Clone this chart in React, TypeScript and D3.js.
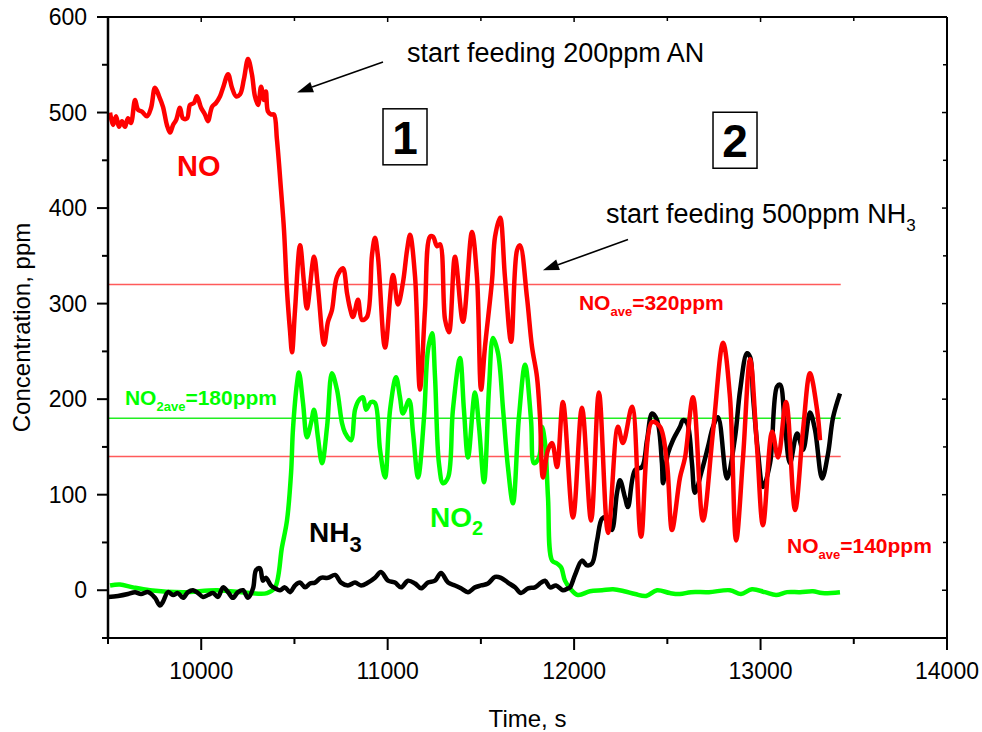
import React from "react";
import * as d3 from "d3";

// ---- Data (time in s, concentration in ppm) ----
const noSeries: [number, number][] = [
  [9511,500],[9527,487],[9543,496],[9559,485],[9575,491],[9591,485],[9607,494],[9623,489],[9645,513],[9661,503],
  [9682,501],[9709,496],[9731,505],[9752,526],[9774,517],[9795,506],[9816,487],[9833,479],[9849,487],[9865,492],
  [9886,505],[9902,494],[9924,494],[9940,508],[9961,510],[9977,517],[9999,505],[10020,498],[10036,491],[10058,506],
  [10079,510],[10101,517],[10117,526],[10144,540],[10165,526],[10187,517],[10208,519],[10229,535],[10251,556],[10272,540],
  [10288,517],[10305,508],[10321,527],[10337,513],[10347,522],[10358,501],[10374,498],[10390,498],[10406,472],[10428,419],
  [10444,377],[10460,314],[10476,272],[10487,249],[10503,293],[10530,361],[10551,322],[10567,295],[10605,349],[10626,317],
  [10659,257],[10680,281],[10701,293],[10728,328],[10760,337],[10782,311],[10798,295],[10814,286],[10841,304],[10862,283],
  [10889,286],[10916,351],[10932,369],[10948,349],[10986,254],[11029,330],[11055,299],[11082,322],[11104,356],[11120,372],
  [11147,328],[11173,210],[11200,293],[11227,370],[11243,370],[11265,360],[11281,362],[11308,283],[11329,270],[11361,349],
  [11404,281],[11452,375],[11479,328],[11501,210],[11522,255],[11560,325],[11576,370],[11603,390],[11629,328],[11662,260],
  [11694,356],[11710,361],[11747,307],[11774,255],[11801,223],[11817,181],[11833,118],[11860,147],[11882,154],[11908,129],
  [11940,197],[11994,76],[12042,191],[12091,73],[12133,207],[12182,60],[12235,171],[12262,154],[12311,192],[12359,56],
  [12418,176],[12461,171],[12498,133],[12525,63],[12568,118],[12595,139],[12638,202],[12691,73],[12745,166],[12799,259],
  [12836,202],[12869,52],[12906,139],[12944,242],[12981,150],[13013,68],[13062,166],[13094,139],[13137,197],[13185,84],
  [13228,168],[13265,227],[13303,189],[13319,157]
];

const no2Series: [number, number][] = [
  [9511,5],[9564,6],[9634,3],[9725,0],[9902,-2],[10085,0],[10262,-3],[10353,-3],[10396,3],[10433,45],
  [10460,73],[10482,123],[10492,168],[10514,217],[10524,228],[10546,196],[10567,160],[10589,175],[10605,189],[10626,160],
  [10648,133],[10675,171],[10701,227],[10728,210],[10755,175],[10771,165],[10803,157],[10825,189],[10846,199],[10868,202],
  [10884,189],[10911,197],[10932,196],[10959,147],[10986,118],[11013,189],[11045,223],[11066,202],[11082,185],[11115,199],
  [11136,165],[11163,118],[11195,181],[11216,251],[11238,269],[11254,223],[11275,133],[11297,112],[11324,118],[11350,189],
  [11388,243],[11409,189],[11431,139],[11468,207],[11490,171],[11517,113],[11544,213],[11565,264],[11592,248],[11619,189],
  [11645,129],[11672,91],[11704,181],[11737,236],[11769,178],[11785,133],[11812,139],[11828,171],[11844,154],[11860,97],
  [11882,31],[11908,28],[11930,24],[11951,10],[11978,2],[12021,-5],[12085,-1],[12150,0],[12209,1],[12268,-1],
  [12327,-4],[12386,-6],[12445,0],[12514,-3],[12568,-4],[12627,-2],[12723,-2],[12836,0],[12895,-4],[12954,1],
  [13024,-2],[13083,-5],[13142,-2],[13212,-2],[13281,-1],[13330,-3],[13426,-2]
];

const nh3Series: [number, number][] = [
  [9500,-7],[9554,-6],[9607,-4],[9645,-2],[9677,-4],[9715,-2],[9752,-8],[9779,-16],[9795,-12],[9822,-2],
  [9849,-5],[9875,-3],[9902,-8],[9929,-2],[9956,0],[9983,-3],[10010,-7],[10036,-5],[10063,-3],[10090,-7],
  [10117,3],[10144,-2],[10170,-8],[10197,-2],[10224,0],[10251,-8],[10278,2],[10294,21],[10315,23],[10331,10],
  [10347,13],[10374,5],[10396,2],[10423,0],[10449,3],[10476,-2],[10503,5],[10530,8],[10557,3],[10583,7],
  [10610,8],[10642,13],[10680,13],[10718,16],[10750,8],[10787,5],[10825,8],[10857,5],[10895,8],[10932,13],
  [10964,19],[11002,10],[11039,8],[11072,3],[11109,10],[11147,7],[11179,2],[11216,8],[11254,10],[11286,18],
  [11324,8],[11361,5],[11393,2],[11431,-2],[11468,3],[11501,5],[11538,7],[11576,14],[11608,13],[11645,8],
  [11683,3],[11715,-3],[11753,2],[11790,3],[11823,8],[11844,10],[11871,3],[11903,5],[11940,0],[11967,2],
  [11978,3],[12005,16],[12042,31],[12069,26],[12096,28],[12123,52],[12150,75],[12176,76],[12203,63],[12230,102],
  [12246,115],[12273,97],[12289,87],[12327,126],[12364,129],[12391,157],[12418,185],[12445,178],[12471,133],[12477,112],
  [12503,143],[12530,157],[12568,171],[12584,178],[12606,175],[12632,133],[12648,102],[12686,126],[12718,150],[12745,171],
  [12772,181],[12820,117],[12863,160],[12890,209],[12927,248],[12944,244],[12960,202],[12987,143],[13013,108],[13051,133],
  [13088,213],[13105,215],[13131,171],[13158,133],[13196,164],[13228,147],[13265,186],[13292,168],[13330,117],[13362,143],
  [13389,181],[13426,206]
];

const xMajorTicks = [10000, 11000, 12000, 13000, 14000];
const xMinorTicks = [9500, 10500, 11500, 12500, 13500];
const yMajorTicks = [0, 100, 200, 300, 400, 500, 600];
const yMinorTicks = [-50, 50, 150, 250, 350, 450, 550];

const averages = [
  { value: 320, color: "#ff5a5a" },
  { value: 180, color: "#22ee22" },
  { value: 140, color: "#ff5a5a" },
];
const avgEnd = 13430;

export default function App() {
  const W = 982, H = 732;
  const x = d3.scaleLinear().domain([9500, 14000]).range([108, 947]);
  const y = d3.scaleLinear().domain([-50, 600]).range([638, 17]);
  const line = d3
    .line<[number, number]>()
    .x((d) => x(d[0]))
    .y((d) => y(d[1]))
    .curve(d3.curveCatmullRom.alpha(0.5));

  const font = "'Liberation Sans', Arial, Helvetica, sans-serif";
  const x0 = x.range()[0], x1 = x.range()[1];
  const y0 = y.range()[0], y1 = y.range()[1];

  const arrow = (t1: number, v1: number, t2: number, v2: number) => {
    const ax = x(t1), ay = y(v1), bx = x(t2), by = y(v2);
    const ang = Math.atan2(by - ay, bx - ax);
    const L = 16, Wd = 5.5;
    const hx = bx - L * Math.cos(ang), hy = by - L * Math.sin(ang);
    const p1 = [hx + Wd * Math.sin(ang), hy - Wd * Math.cos(ang)];
    const p2 = [hx - Wd * Math.sin(ang), hy + Wd * Math.cos(ang)];
    return (
      <g>
        <line x1={ax} y1={ay} x2={hx} y2={hy} stroke="#000" strokeWidth={1.6} />
        <polygon points={`${bx},${by} ${p1[0]},${p1[1]} ${p2[0]},${p2[1]}`} fill="#000" />
      </g>
    );
  };

  return (
    <svg width={W} height={H} style={{ position: "absolute", left: 0, top: 0, background: "#fff" }} fontFamily={font}>
      <rect x={0} y={0} width={W} height={H} fill="#fff" />
      {/* average lines */}
      {averages.map((a, i) => (
        <line key={i} x1={x0} x2={x(avgEnd)} y1={y(a.value)} y2={y(a.value)} stroke={a.color} strokeWidth={1.5} />
      ))}
      {/* series */}
      <path d={line(no2Series) || ""} fill="none" stroke="#00ff00" strokeWidth={4.5} strokeLinejoin="round" />
      <path d={line(nh3Series) || ""} fill="none" stroke="#000" strokeWidth={4.5} strokeLinejoin="round" />
      <path d={line(noSeries) || ""} fill="none" stroke="#ff0000" strokeWidth={4.5} strokeLinejoin="round" />

      {/* frame */}
      <line x1={x0} x2={x1} y1={y1} y2={y1} stroke="#000" strokeWidth={2} />
      <line x1={x1} x2={x1} y1={y1} y2={y0} stroke="#000" strokeWidth={2} />
      <line x1={x0} x2={x1} y1={y0} y2={y0} stroke="#000" strokeWidth={2} />
      <line x1={x0} x2={x0} y1={y1} y2={y0 + 1} stroke="#000" strokeWidth={2.5} />

      {/* x ticks */}
      {xMajorTicks.map((t) => (
        <g key={"xm" + t}>
          <line x1={x(t)} x2={x(t)} y1={y0} y2={y0 + 12} stroke="#000" strokeWidth={2} />
          <line x1={x(t)} x2={x(t)} y1={y1} y2={y1 + 5} stroke="#000" strokeWidth={1.5} />
          <text x={x(t)} y={y0 + 41} fontSize={23} textAnchor="middle">{t}</text>
        </g>
      ))}
      {xMinorTicks.map((t) => (
        <g key={"xn" + t}>
          <line x1={x(t)} x2={x(t)} y1={y0} y2={y0 + 6} stroke="#000" strokeWidth={2} />
          <line x1={x(t)} x2={x(t)} y1={y1} y2={y1 + 4} stroke="#000" strokeWidth={1.5} />
        </g>
      ))}
      {/* y ticks */}
      {yMajorTicks.map((v) => (
        <g key={"ym" + v}>
          <line x1={x0 - 11} x2={x0} y1={y(v)} y2={y(v)} stroke="#000" strokeWidth={2} />
          <line x1={x1 - 5} x2={x1} y1={y(v)} y2={y(v)} stroke="#000" strokeWidth={1.5} />
          <text x={x0 - 21} y={y(v) + 8} fontSize={23} textAnchor="end">{v}</text>
        </g>
      ))}
      {yMinorTicks.map((v) => (
        <g key={"yn" + v}>
          <line x1={x0 - 6} x2={x0} y1={y(v)} y2={y(v)} stroke="#000" strokeWidth={2} />
          <line x1={x1 - 4} x2={x1} y1={y(v)} y2={y(v)} stroke="#000" strokeWidth={1.5} />
        </g>
      ))}

      {/* axis titles */}
      <text x={(x0 + x1) / 2} y={727} fontSize={24} textAnchor="middle">Time, s</text>
      <text transform={`translate(30, ${(y0 + y1) / 2}) rotate(-90)`} fontSize={24} textAnchor="middle">
        Concentration, ppm
      </text>

      {/* annotations */}
      <text x={x(11104)} y={y(553)} fontSize={27}>start feeding 200ppm AN</text>
      {arrow(10975, 553, 10514, 521)}
      <text x={x(12171)} y={y(384.5)} fontSize={27}>
        start feeding 500ppm NH<tspan fontSize={17} dy={8}>3</tspan>
      </text>
      {arrow(12289, 367, 11833, 335)}

      {/* phase boxes */}
      {[{ t: 11093, v: 474.6, label: "1" }, { t: 12863, v: 471, label: "2" }].map((b) => (
        <g key={b.label}>
          <rect x={x(b.t) - 22} y={y(b.v) - 28} width={44} height={56} fill="#fff" stroke="#000" strokeWidth={1.5} />
          <text x={x(b.t)} y={y(b.v) + 17} fontSize={46} fontWeight="bold" textAnchor="middle">{b.label}</text>
        </g>
      ))}

      {/* series labels */}
      <text x={x(9870)} y={y(434)} fontSize={29} fontWeight="bold" fill="#ff0000">NO</text>
      <text x={x(10578)} y={y(50)} fontSize={28} fontWeight="bold" fill="#000">
        NH<tspan fontSize={22} dy={10}>3</tspan>
      </text>
      <text x={x(11227)} y={y(66)} fontSize={28} fontWeight="bold" fill="#00ff00">
        NO<tspan fontSize={20} dy={8}>2</tspan>
      </text>

      {/* average labels */}
      <text x={x(12026)} y={y(293)} fontSize={21} fontWeight="bold" fill="#ff0000">
        NO<tspan fontSize={13} dy={6}>ave</tspan><tspan dy={-6}>=320ppm</tspan>
      </text>
      <text x={x(9591)} y={y(194)} fontSize={21} fontWeight="bold" fill="#00ff00">
        NO<tspan fontSize={13} dy={6}>2ave</tspan><tspan dy={-6}>=180ppm</tspan>
      </text>
      <text x={x(13142)} y={y(39)} fontSize={21} fontWeight="bold" fill="#ff0000">
        NO<tspan fontSize={13} dy={6}>ave</tspan><tspan dy={-6}>=140ppm</tspan>
      </text>
    </svg>
  );
}
